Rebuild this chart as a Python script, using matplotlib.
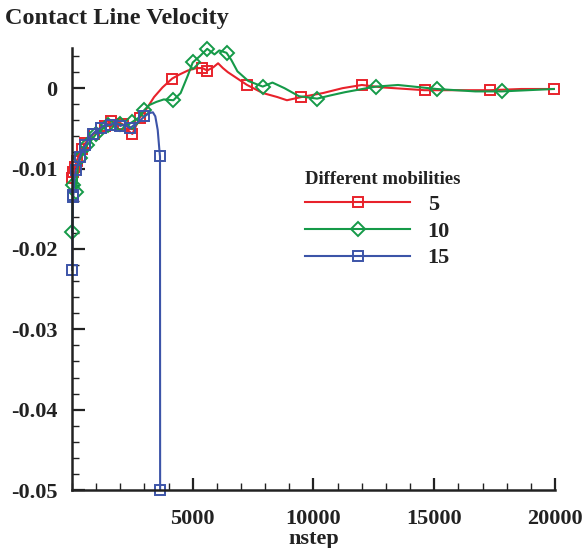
import numpy as np
import matplotlib.pyplot as plt
from matplotlib.ticker import MultipleLocator, FixedLocator

plt.rcParams['font.family'] = ['Liberation Serif', 'DejaVu Serif']
plt.rcParams['font.weight'] = 'bold'

# mobility 5
red_x = [20, 60, 120, 200, 300, 420, 560, 700, 900, 1100, 1350, 1600, 1850, 2100,
         2300, 2500, 2800, 3100, 3400, 3750, 4150, 4450, 4800, 5150, 5400, 5600,
         5850, 6050, 6250, 6450, 6850, 7250, 7900, 8500, 8900, 9500, 10400, 11200,
         12000, 12850, 14600, 16000, 17300, 18600, 19950]
red_y = [-0.0112, -0.0104, -0.0098, -0.0090, -0.0083, -0.0076, -0.0068, -0.0063,
         -0.0057, -0.0051, -0.0047, -0.0041, -0.0041, -0.0045, -0.0052, -0.0057,
         -0.0037, -0.0025, -0.0011, 0.0001, 0.0012, 0.0017, 0.0022, 0.0025, 0.0025,
         0.0022, 0.0026, 0.0031, 0.0025, 0.0020, 0.0012, 0.0004, -0.0006, -0.0011,
         -0.0015, -0.0011, -0.0006, 0.0000, 0.0004, 0.0001, -0.00025, -0.00025,
         -0.00025, -0.0001, -0.0001]
red_marks = [0, 1, 2, 3, 5, 6, 8, 10, 11, 13, 15, 16, 20, 24, 25, 31, 35, 38, 40, 42, 44]

# mobility 10
green_x = [10, 40, 100, 170, 250, 350, 480, 620, 800, 1000, 1250, 1500, 1750, 2000,
           2250, 2500, 2750, 3000, 3200, 3500, 3800, 4200, 4500, 4800, 5000, 5300,
           5600, 5900, 6100, 6400, 6600, 6850, 7300, 7900, 8300, 8800, 9400, 10150,
           10700, 11300, 12200, 12600, 13500, 15100, 16700, 17800, 19950]
green_y = [-0.0179, -0.0121, -0.0109, -0.0129, -0.0096, -0.0087, -0.0080, -0.0071,
           -0.0065, -0.0057, -0.0051, -0.0046, -0.0044, -0.0045, -0.0047, -0.0042,
           -0.0037, -0.0027, -0.0021, -0.0017, -0.0014, -0.0015, -0.0006, 0.0016,
           0.0032, 0.0040, 0.0049, 0.0042, 0.0047, 0.0044, 0.0035, 0.0021, 0.0009,
           0.0002, 0.0007, 0.0000, -0.0010, -0.0013, -0.0009, -0.0005, 0.0000,
           0.0002, 0.0004, -0.0001, -0.0004, -0.0004, -0.0001]
green_marks = [0, 1, 3, 5, 7, 9, 11, 13, 15, 17, 21, 24, 26, 29, 33, 37, 41, 43, 45]

# mobility 15
blue_x = [10, 30, 60, 100, 160, 230, 320, 430, 560, 700, 850, 1000, 1200, 1400, 1600,
          1800, 2000, 2200, 2400, 2600, 2800, 3000, 3200, 3350, 3450, 3550, 3620,
          3645, 3650]
blue_y = [-0.0226, -0.0136, -0.0133, -0.0114, -0.0102, -0.0096, -0.0086, -0.0077,
          -0.0071, -0.0063, -0.0057, -0.0053, -0.0049, -0.0045, -0.0046, -0.0042,
          -0.0047, -0.0045, -0.0050, -0.0045, -0.0041, -0.0035, -0.0031, -0.0030,
          -0.0035, -0.0052, -0.0077, -0.0085, -0.0500]
blue_marks = [0, 1, 2, 4, 6, 8, 10, 12, 14, 16, 18, 21, 27, 28]

labels = ['5', '10', '15']
colors = ['#e8222b', '#159a48', '#3c54a8']
ink = '#222222'
fs = 16

fig = plt.figure(figsize=(5.88, 5.48), dpi=100)
ax = fig.add_axes([0.1224, 0.1058, 0.8215, 0.8066])

style = dict(lw=1.5, mfc='none', mew=1.4, ms=7.5, clip_on=False)
ax.plot(red_x, red_y, color=colors[0], marker='s', markevery=red_marks,
        label=labels[0], **style)
ax.plot(green_x, green_y, color=colors[1], marker='D', markevery=green_marks,
        label=labels[1], **dict(style, ms=7))
ax.plot(blue_x, blue_y, color=colors[2], marker='s', markevery=blue_marks,
        label=labels[2], **style)

ax.set_xlim(0, 20000)
ax.set_ylim(-0.05, 0.005)
ax.xaxis.set_major_locator(FixedLocator([5000, 10000, 15000, 20000]))
ax.xaxis.set_minor_locator(MultipleLocator(1000))
ax.yaxis.set_major_locator(FixedLocator([-0.05, -0.04, -0.03, -0.02, -0.01, 0]))
ax.yaxis.set_minor_locator(MultipleLocator(0.002))
ax.set_yticklabels(['-0.05', '-0.04', '-0.03', '-0.02', '-0.01', '0'])

for s in ['top', 'right']:
    ax.spines[s].set_visible(False)
for s in ['left', 'bottom']:
    ax.spines[s].set_linewidth(1.8)
    ax.spines[s].set_color(ink)

ax.tick_params(which='major', direction='in', length=9, width=1.6,
               labelsize=fs, pad=10.5, colors=ink)
ax.tick_params(axis='x', which='major', pad=13.5)
ax.tick_params(which='minor', direction='in', length=5, width=1.0, colors=ink)
ax.set_xlabel('nstep', fontsize=fs, fontweight='bold', labelpad=0, color=ink)

fig.text(0.008, 0.967, 'Contact Line Velocity', fontsize=17.5, fontweight='bold',
         va='center', ha='left', color=ink)

leg = ax.legend(title='Different mobilities', loc='upper left',
                bbox_to_anchor=(0.5195, 0.688), bbox_transform=fig.transFigure,
                frameon=False, fontsize=fs, handlelength=4.7, handletextpad=0.8,
                labelspacing=0.28, alignment='left', borderaxespad=0,
                borderpad=0)
plt.setp(leg.get_title(), fontsize=13.5, fontweight='bold', color=ink)
for t in leg.get_texts():
    t.set_color(ink)

fig.savefig('out.png', dpi=100)
